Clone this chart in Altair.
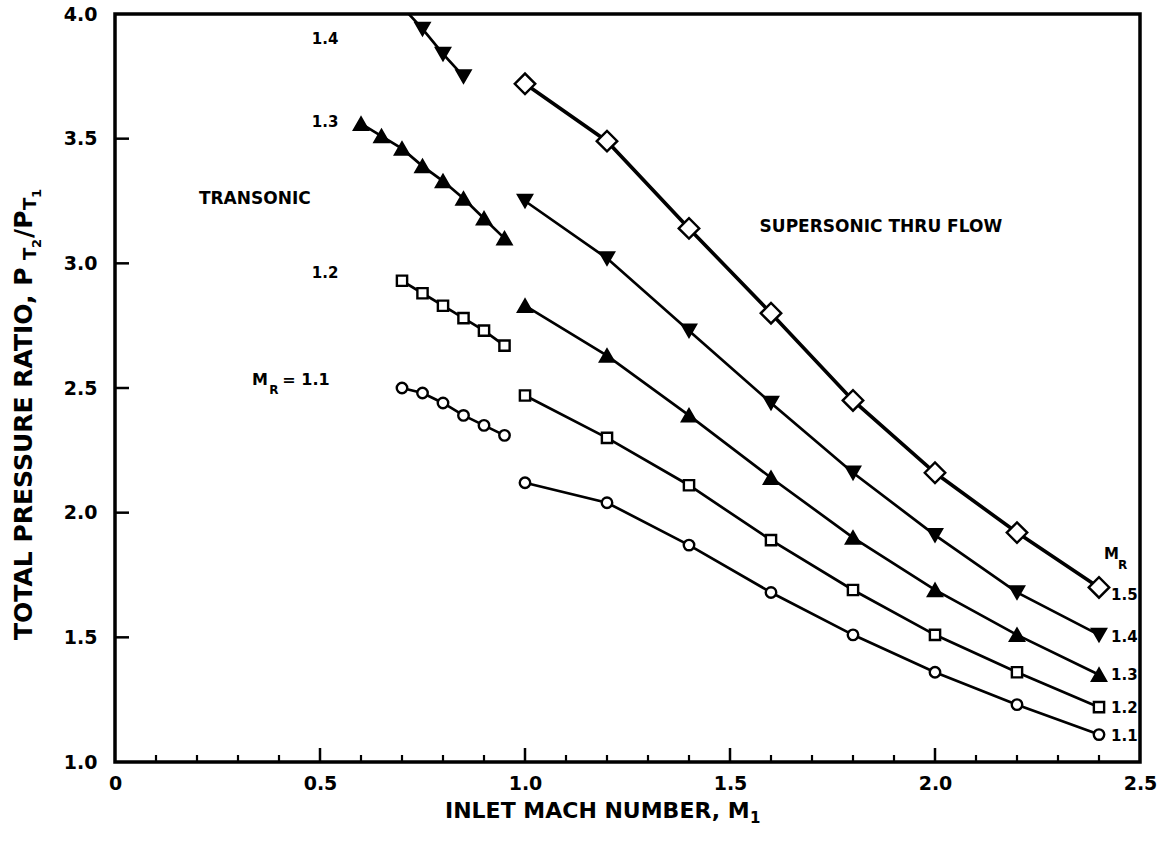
import altair as alt
import pandas as pd

FONT = "DejaVu Sans"

# ---- data -------------------------------------------------------------
# supersonic through-flow branch (inlet Mach 1.0 - 2.4)
mach_super = [1.0, 1.2, 1.4, 1.6, 1.8, 2.0, 2.2, 2.4]
super_15 = [3.72, 3.49, 3.14, 2.80, 2.45, 2.16, 1.92, 1.70]
super_14 = [3.25, 3.02, 2.73, 2.44, 2.16, 1.91, 1.68, 1.51]
super_13 = [2.83, 2.63, 2.39, 2.14, 1.90, 1.69, 1.51, 1.35]
super_12 = [2.47, 2.30, 2.11, 1.89, 1.69, 1.51, 1.36, 1.22]
super_11 = [2.12, 2.04, 1.87, 1.68, 1.51, 1.36, 1.23, 1.11]

# transonic branch
mach_trans_14 = [0.70, 0.75, 0.80, 0.85]
trans_14 = [4.03, 3.94, 3.84, 3.75]
mach_trans_13 = [0.60, 0.65, 0.70, 0.75, 0.80, 0.85, 0.90, 0.95]
trans_13 = [3.56, 3.51, 3.46, 3.39, 3.33, 3.26, 3.18, 3.10]
mach_trans_lo = [0.70, 0.75, 0.80, 0.85, 0.90, 0.95]
trans_12 = [2.93, 2.88, 2.83, 2.78, 2.73, 2.67]
trans_11 = [2.50, 2.48, 2.44, 2.39, 2.35, 2.31]

mr_levels = ["1.1", "1.2", "1.3", "1.4", "1.5"]

# curve labels
left_label_text = ["1.4", "1.3", "1.2"]
left_label_y = [3.90, 3.565, 2.96]
right_label_text = ["1.5", "1.4", "1.3", "1.2", "1.1"]
right_label_y = [1.67, 1.50, 1.35, 1.215, 1.105]

x_major = [0.0, 0.5, 1.0, 1.5, 2.0, 2.5]
x_minor = [round(0.1 * i, 1) for i in range(1, 25) if i % 5]
y_major = [1.5, 2.0, 2.5, 3.0, 3.5]

# ---- tables -----------------------------------------------------------
rows = []
def add(regime, mr, xs, ys):
    for xv, yv in zip(xs, ys):
        rows.append({"M1": xv, "ratio": yv, "mr": mr, "series": f"{regime}-{mr}"})

add("sup", "1.5", mach_super, super_15)
add("sup", "1.4", mach_super, super_14)
add("sup", "1.3", mach_super, super_13)
add("sup", "1.2", mach_super, super_12)
add("sup", "1.1", mach_super, super_11)
add("tra", "1.4", mach_trans_14, trans_14)
add("tra", "1.3", mach_trans_13, trans_13)
add("tra", "1.2", mach_trans_lo, trans_12)
add("tra", "1.1", mach_trans_lo, trans_11)
df = pd.DataFrame(rows)

W, H = 1025, 748

x_scale = alt.Scale(domain=[0, 2.5], nice=False, zero=False)
y_scale = alt.Scale(domain=[1.0, 4.0], nice=False, zero=False)

x_axis = alt.Axis(values=x_major, title=None, domain=False, ticks=False, grid=False,
                  labelExpr="datum.value == 0 ? '0' : format(datum.value, '.1f')",
                  labelFont=FONT, labelFontWeight="bold", labelFontSize=19,
                  labelColor="black", labelPadding=12, labelFlush=False,
                  labelOverlap=False)
y_axis = alt.Axis(values=[1.0] + y_major + [4.0], title=None, domain=False, ticks=False,
                  grid=False, format=".1f", labelFont=FONT, labelFontWeight="bold",
                  labelFontSize=19, labelColor="black", labelPadding=18,
                  labelFlush=False, labelOverlap=False)

X = alt.X("M1:Q", scale=x_scale, axis=x_axis)
Y = alt.Y("ratio:Q", scale=y_scale, axis=y_axis)

# marker style per rotor Mach number: (shape, size, filled, line width)
style = {
    "1.1": ("circle", 110, False, 2.7),
    "1.2": ("square", 105, False, 2.7),
    "1.3": ("triangle-up", 190, True, 2.7),
    "1.4": ("triangle-down", 190, True, 2.7),
    "1.5": ("diamond", 420, False, 3.6),
}

curve_layers = []
for mr in mr_levels:
    shape, size, filled, lw = style[mr]
    sub = alt.Chart(df).transform_filter(f"datum.mr == '{mr}'")
    curve_layers.append(
        sub.mark_line(color="black", strokeWidth=lw, clip=True).encode(
            x=X, y=Y, detail="series:N", order="M1:Q")
    )
    curve_layers.append(
        sub.transform_filter("datum.ratio <= 4").mark_point(
            shape=shape, size=size, filled=True,
            fill="black" if filled else "white", stroke="black",
            strokeWidth=2.4, opacity=1
        ).encode(x=X, y=Y)
    )

# ---- text annotations -------------------------------------------------
def label_layer(frame, size, align="left", dx=0):
    return alt.Chart(frame).mark_text(
        align=align, baseline="middle", dx=dx, font=FONT, fontWeight="bold",
        fontSize=size, color="black").encode(x="M1:Q", y="ratio:Q", text="t:N")

left_df = pd.DataFrame({"M1": [0.545] * 3, "ratio": left_label_y, "t": left_label_text})
left_labels = label_layer(left_df, 15, align="right")

mr11_m = label_layer(pd.DataFrame({"M1": [0.334], "ratio": [2.533], "t": ["M"]}), 16)
mr11_r = label_layer(pd.DataFrame({"M1": [0.376], "ratio": [2.493], "t": ["R"]}), 12)
mr11_v = label_layer(pd.DataFrame({"M1": [0.408], "ratio": [2.533], "t": ["= 1.1"]}), 16)

right_df = pd.DataFrame({"M1": [2.4] * 5, "ratio": right_label_y, "t": right_label_text})
right_labels = label_layer(right_df, 15, dx=12)

mr_head_m = label_layer(pd.DataFrame({"M1": [2.4], "ratio": [1.835], "t": ["M"]}), 15, dx=5)
mr_head_r = label_layer(pd.DataFrame({"M1": [2.4], "ratio": [1.79], "t": ["R"]}), 12, dx=19)

region_df = pd.DataFrame({"M1": [0.341, 1.868], "ratio": [3.258, 3.145],
                          "t": ["TRANSONIC", "SUPERSONIC THRU FLOW"]})
regions = label_layer(region_df, 17, align="center")

# ---- inward tick marks ------------------------------------------------
xmaj_df = pd.DataFrame({"M1": x_major[1:-1]})
xmin_df = pd.DataFrame({"M1": x_minor})
ymaj_df = pd.DataFrame({"ratio": y_major})
xmaj_ticks = alt.Chart(xmaj_df).mark_rule(color="black", strokeWidth=2.5).encode(
    x="M1:Q", y=alt.value(H), y2=alt.value(H - 14))
xmin_ticks = alt.Chart(xmin_df).mark_rule(color="black", strokeWidth=2.2).encode(
    x="M1:Q", y=alt.value(H), y2=alt.value(H - 7))
ymaj_ticks = alt.Chart(ymaj_df).mark_rule(color="black", strokeWidth=2.5).encode(
    y="ratio:Q", x=alt.value(0), x2=alt.value(14))

# ---- axis titles (with subscripts) ------------------------------------
def txt(t, x, y, size, angle=0, dy=0):
    return alt.Chart(pd.DataFrame({"t": [t]})).mark_text(
        align="left", baseline="middle", font=FONT, fontWeight="bold",
        fontSize=size, angle=angle, dy=dy, color="black"
    ).encode(text="t:N", x=alt.value(x), y=alt.value(y))

xt0 = 330
xt_y = 797
x_title = [
    txt("INLET MACH NUMBER, M", xt0, xt_y, 22),
    txt("1", xt0 + 305, xt_y, 15, dy=7),
]
yt_x = -91
yt0 = 626
y_title = [
    txt("TOTAL PRESSURE RATIO, P", yt_x, yt0, 25, angle=270),
    txt("T", yt_x, yt0 - 380, 18, angle=270, dy=7),
    txt("2", yt_x, yt0 - 392, 13, angle=270, dy=13),
    txt("/P", yt_x, yt0 - 402, 25, angle=270),
    txt("T", yt_x, yt0 - 430, 18, angle=270, dy=7),
    txt("1", yt_x, yt0 - 442, 13, angle=270, dy=13),
]

chart = alt.layer(
    *curve_layers, left_labels, mr11_m, mr11_r, mr11_v, right_labels,
    mr_head_m, mr_head_r, regions, xmaj_ticks, xmin_ticks, ymaj_ticks,
    *x_title, *y_title
).properties(
    width=W, height=H,
    autosize=alt.AutoSizeParams(type="none"),
    padding={"left": 115, "top": 14, "right": 26, "bottom": 82},
    background="white",
).configure_view(stroke="black", strokeWidth=3.5)

chart.save("out.html", embed_options={"renderer": "svg", "actions": False})
